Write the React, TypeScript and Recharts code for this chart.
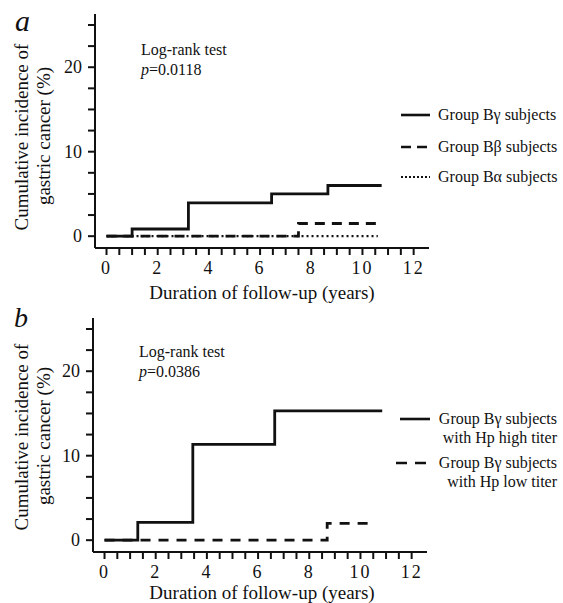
import React from 'react';
import { LineChart, Line, XAxis, YAxis } from 'recharts';

// panel a: Bγ / Bβ / Bα subjects
const aGammaYears = [0, 1.0, 3.2, 6.45, 8.65, 10.75];
const aGammaInc = [0, 0.85, 3.95, 5.0, 6.0, 6.0];
const aBetaYears = [0, 7.5, 10.7];
const aBetaInc = [0, 1.5, 1.5];
const aAlphaYears = [0, 10.6];
const aAlphaInc = [0, 0];

// panel b: Bγ subjects by Hp titer
const bHighYears = [0, 1.3, 3.45, 6.65, 10.85];
const bHighInc = [0, 2.1, 11.35, 15.3, 15.3];
const bLowYears = [0, 8.7, 10.55];
const bLowInc = [0, 2.0, 2.0];

const xTicks = [0, 0.5, 1, 1.5, 2, 2.5, 3, 3.5, 4, 4.5, 5, 5.5, 6, 6.5, 7, 7.5, 8, 8.5, 9, 9.5, 10, 10.5, 11, 11.5, 12];
const yTicks = [0, 2.5, 5, 7.5, 10, 12.5, 15, 17.5, 20, 22.5, 25];

const legendA = ['Group B\u03b3 subjects', 'Group B\u03b2 subjects', 'Group B\u03b1 subjects'];
const legendB = [
  ['Group B\u03b3 subjects', 'with Hp high titer'],
  ['Group B\u03b3 subjects', 'with Hp low titer'],
];

const FONT = "'Liberation Serif', 'Times New Roman', serif";
const INK = '#111';
const TICK = 7;
const Y_W = 60;
const X_H = 30;

const toRows = (xs: number[], ys: number[]) => xs.map((x, i) => ({ x, y: ys[i] }));

// labels only on the even years / every 10 %, the tick marks come from tickLine
const XTick = (props: any) => {
  const { x, y, payload } = props;
  const v = payload.value;
  if (v % 2 !== 0) return <g />;
  return (
    <text x={x} y={y + 19} textAnchor="middle" fontSize={18} style={{ fontFamily: FONT }} fill={INK} letterSpacing={2}>
      {v}
    </text>
  );
};

const YTick = (props: any) => {
  const { x, y, payload } = props;
  const v = payload.value;
  if (v % 10 !== 0) return <g />;
  return (
    <text x={x - 6} y={y + 6} textAnchor="end" fontSize={18} style={{ fontFamily: FONT }} fill={INK}>
      {v}
    </text>
  );
};

interface PanelProps {
  height: number;
  left: number;
  children: React.ReactNode;
}

// axis line sits at x = left, y = 248 inside each panel
const Panel: React.FC<PanelProps> = ({ height, left, children }) => (
  <LineChart
    width={563}
    height={height}
    margin={{ top: 14, right: 563 - left - 334, left: left - Y_W, bottom: height - 248 - X_H }}
  >
    <XAxis
      type="number"
      dataKey="x"
      domain={[-0.45, 12.6]}
      ticks={xTicks}
      interval={0}
      allowDataOverflow
      height={X_H}
      tickSize={TICK}
      tickMargin={0}
      tickLine={{ stroke: INK, strokeWidth: 2 }}
      axisLine={{ stroke: INK, strokeWidth: 2 }}
      tick={XTick}
    />
    <YAxis
      type="number"
      dataKey="y"
      domain={[-1.4, 26.3]}
      ticks={yTicks}
      interval={0}
      allowDataOverflow
      width={Y_W}
      tickSize={TICK}
      tickMargin={0}
      tickLine={{ stroke: INK, strokeWidth: 2 }}
      axisLine={{ stroke: INK, strokeWidth: 2 }}
      tick={YTick}
    />
    {children}
  </LineChart>
);

const AxisTitles = ({ dy }: { dy: number }) => (
  <g style={{ fontFamily: FONT }} fill={INK}>
    <text x={28} y={137 + dy} fontSize={19} textAnchor="middle" transform={`rotate(-90 28 ${137 + dy})`}>
      Cumulative incidence of
    </text>
    <text x={50} y={136 + dy} fontSize={19} textAnchor="middle" transform={`rotate(-90 50 ${136 + dy})`}>
      gastric cancer (%)
    </text>
    <text x={262} y={299 + dy} fontSize={19} textAnchor="middle">
      Duration of follow-up (years)
    </text>
  </g>
);

const App: React.FC = () => {
  return (
    <div style={{ position: 'absolute', left: 0, top: 0, width: 563, height: 603, background: '#fff', overflow: 'hidden' }}>
      <div style={{ position: 'absolute', left: 0, top: 0 }}>
        <Panel height={304} left={95}>
          <Line data={toRows(aGammaYears, aGammaInc)} dataKey="y" type="stepAfter" stroke={INK} strokeWidth={2.8} dot={false} activeDot={false} isAnimationActive={false} />
          <Line data={toRows(aBetaYears, aBetaInc)} dataKey="y" type="stepAfter" stroke={INK} strokeWidth={2.8} strokeDasharray="10 7" dot={false} activeDot={false} isAnimationActive={false} />
          <Line data={toRows(aAlphaYears, aAlphaInc)} dataKey="y" type="stepAfter" stroke={INK} strokeWidth={2.2} strokeDasharray="2 3" dot={false} activeDot={false} isAnimationActive={false} />
        </Panel>
      </div>
      <div style={{ position: 'absolute', left: 0, top: 304 }}>
        <Panel height={299} left={93}>
          <Line data={toRows(bHighYears, bHighInc)} dataKey="y" type="stepAfter" stroke={INK} strokeWidth={2.8} dot={false} activeDot={false} isAnimationActive={false} />
          <Line data={toRows(bLowYears, bLowInc)} dataKey="y" type="stepAfter" stroke={INK} strokeWidth={2.8} strokeDasharray="10 8" dot={false} activeDot={false} isAnimationActive={false} />
        </Panel>
      </div>

      {/* annotations, legends and axis titles */}
      <svg width={563} height={603} style={{ position: 'absolute', left: 0, top: 0, pointerEvents: 'none' }}>
        <g style={{ fontFamily: FONT }} fill={INK}>
          <text x={15} y={31} fontSize={30} fontStyle="italic">a</text>
          <text x={14} y={327} fontSize={28} fontStyle="italic">b</text>

          <text x={141} y={55} fontSize={16}>Log-rank test</text>
          <text x={141} y={75} fontSize={16}><tspan fontStyle="italic">p</tspan>=0.0118</text>
          <text x={139} y={357} fontSize={16}>Log-rank test</text>
          <text x={139} y={377} fontSize={16}><tspan fontStyle="italic">p</tspan>=0.0386</text>

          {legendA.map((label, i) => {
            const cy = [115, 147, 177][i];
            const dash = ['', '10 6', '2 2'][i];
            return (
              <g key={label}>
                <line x1={401} x2={430} y1={cy} y2={cy} stroke={INK} strokeWidth={i === 2 ? 2 : 2.6} strokeDasharray={dash || undefined} />
                <text x={438} y={cy + 5} fontSize={16}>{label}</text>
              </g>
            );
          })}

          {legendB.map((lines, i) => {
            const cy = [419, 463][i];
            return (
              <g key={lines[1]}>
                <line x1={i === 0 ? 400 : 396} x2={430} y1={cy} y2={cy} stroke={INK} strokeWidth={2.6} strokeDasharray={i === 1 ? '11 8' : undefined} />
                <text x={557} y={cy + 5} fontSize={16} textAnchor="end">{lines[0]}</text>
                <text x={557} y={cy + 24} fontSize={16} textAnchor="end">{lines[1]}</text>
              </g>
            );
          })}
        </g>
        <AxisTitles dy={0} />
        <AxisTitles dy={300} />
      </svg>
    </div>
  );
};

export default App;
